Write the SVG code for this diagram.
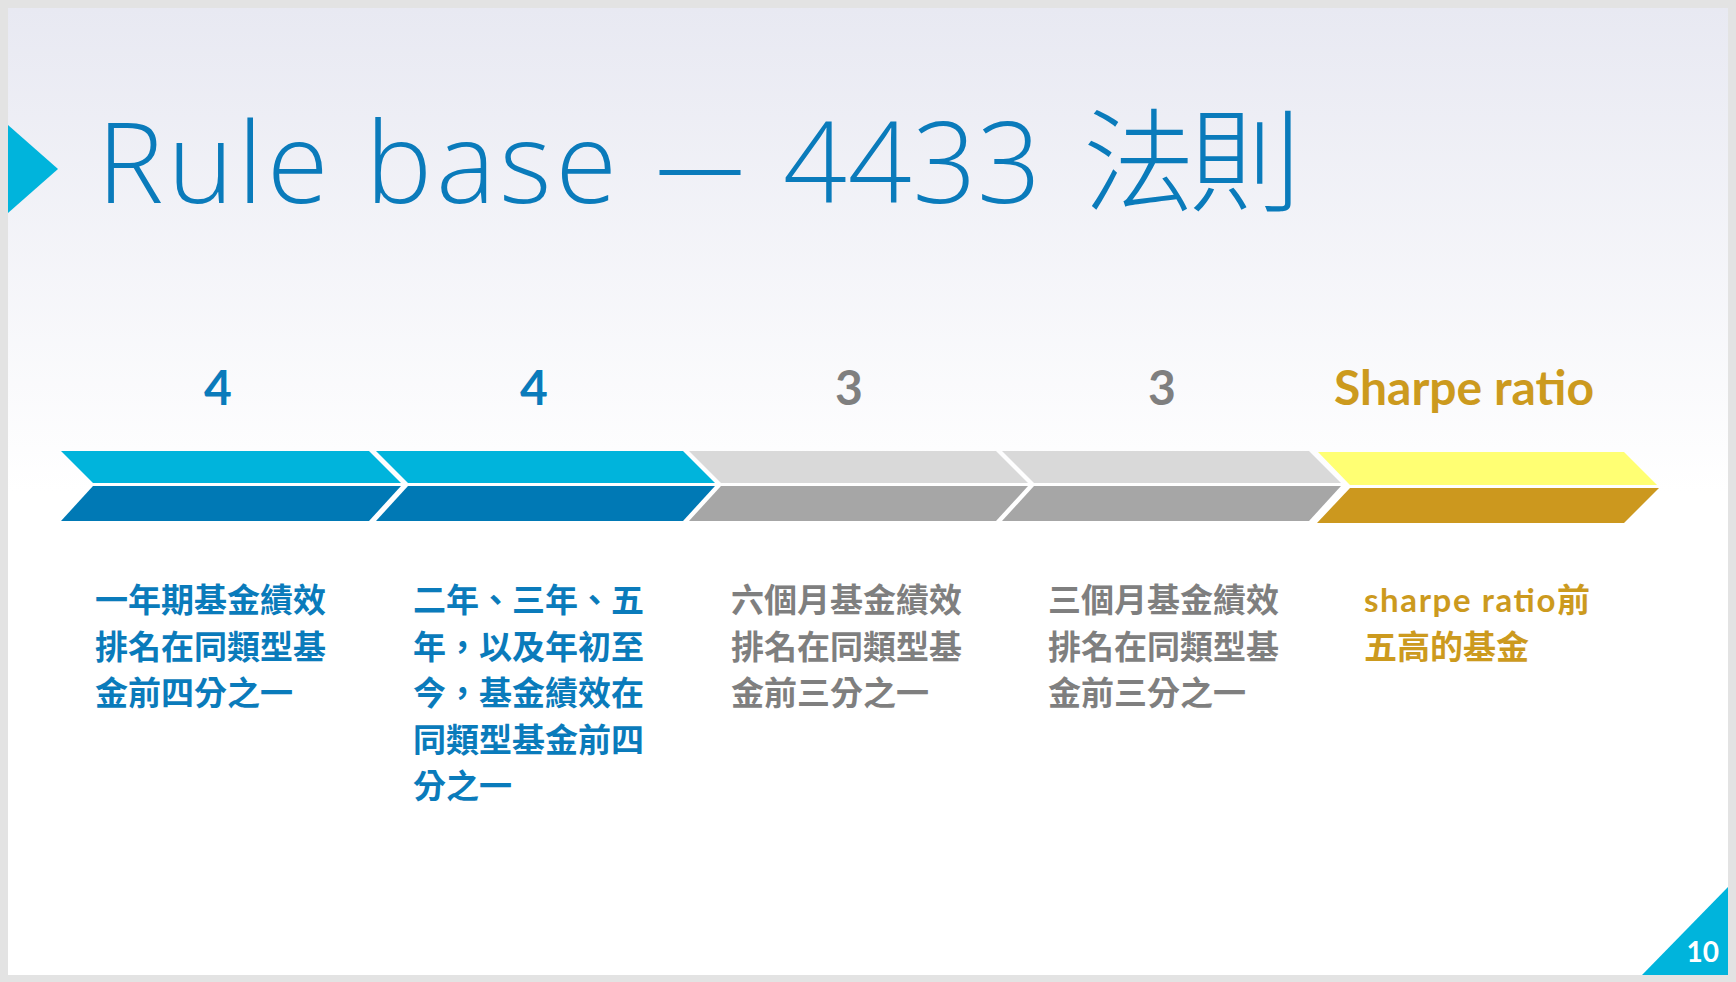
<svg xmlns="http://www.w3.org/2000/svg" width="1736" height="982" viewBox="0 0 1736 982">
  <defs>
    <linearGradient id="bg" x1="0" y1="0" x2="0" y2="1">
      <stop offset="0" stop-color="#e8e9f2"/>
      <stop offset="0.5" stop-color="#ffffff"/>
      <stop offset="1" stop-color="#ffffff"/>
    </linearGradient>
  </defs>
  <style>
    .title { font-family: "Open Sans", "Noto Sans CJK TC", sans-serif; font-weight: 300; font-size: 112px; fill: #0a7bbb; }
    .num { font-family: "Lato", "Noto Sans", sans-serif; font-weight: 700; font-size: 48px; text-anchor: middle; }
    .desc { font-family: "Lato", "Noto Sans CJK TC", sans-serif; font-weight: 700; font-size: 33px; }
    .blue { fill: #0a7bbb; }
    .grey { fill: #7f7f7f; }
    .gold { fill: #cc9a1e; }
    .cyanTop { fill: #00b4dc; }
    .blueBot { fill: #0079b5; }
    .greyTop { fill: #d9d9d9; }
    .greyBot { fill: #a6a6a6; }
    .yelTop { fill: #ffff73; }
    .goldBot { fill: #cc981e; }
  </style>

  <rect x="0" y="0" width="1736" height="982" fill="#e3e3e3"/>
  <rect x="8" y="8" width="1720" height="967" fill="url(#bg)"/>

  <g id="title">
    <polygon points="8,125 58,169 8,213" fill="#00b4dc"/>
    <text class="title" y="203"><tspan x="97" textLength="520" lengthAdjust="spacing">Rule base</tspan><tspan x="656" textLength="88" lengthAdjust="spacingAndGlyphs">—</tspan><tspan x="783" textLength="258" lengthAdjust="spacing">4433</tspan><tspan x="1083" textLength="218" lengthAdjust="spacing">法則</tspan></text>
  </g>

  <g id="step1">
    <polygon class="cyanTop" points="61,451 369,451 401,483 93,483"/>
    <polygon class="blueBot" points="93,486 401,486 369,521 61,521"/>
    <text class="num blue" x="218" y="405">4</text>
    <text class="desc blue"><tspan x="95" y="612">一年期基金績效</tspan><tspan x="95" y="658.5">排名在同類型基</tspan><tspan x="95" y="705">金前四分之一</tspan></text>
  </g>

  <g id="step2">
    <polygon class="cyanTop" points="376,451 683,451 715,483 408,483"/>
    <polygon class="blueBot" points="408,486 715,486 683,521 376,521"/>
    <text class="num blue" x="534" y="405">4</text>
    <text class="desc blue"><tspan x="413" y="612">二年、三年、五</tspan><tspan x="413" y="658.5">年，以及年初至</tspan><tspan x="413" y="705">今，基金績效在</tspan><tspan x="413" y="751.5">同類型基金前四</tspan><tspan x="413" y="798">分之一</tspan></text>
  </g>

  <g id="step3">
    <polygon class="greyTop" points="689,451 996,451 1028,483 721,483"/>
    <polygon class="greyBot" points="721,486 1028,486 996,521 689,521"/>
    <text class="num grey" x="849" y="405">3</text>
    <text class="desc grey"><tspan x="731" y="612">六個月基金績效</tspan><tspan x="731" y="658.5">排名在同類型基</tspan><tspan x="731" y="705">金前三分之一</tspan></text>
  </g>

  <g id="step4">
    <polygon class="greyTop" points="1002,451 1309,451 1341,483 1034,483"/>
    <polygon class="greyBot" points="1034,486 1341,486 1309,521 1002,521"/>
    <text class="num grey" x="1162" y="405">3</text>
    <text class="desc grey"><tspan x="1048" y="612">三個月基金績效</tspan><tspan x="1048" y="658.5">排名在同類型基</tspan><tspan x="1048" y="705">金前三分之一</tspan></text>
  </g>

  <g id="step5">
    <polygon class="yelTop" points="1318,452 1624,452 1657,485 1350,485"/>
    <polygon class="goldBot" points="1350,488 1659,488 1624,523 1317,523"/>
    <text class="num gold" x="1464" y="405">Sharpe ratio</text>
    <text class="desc gold"><tspan x="1364" y="612" textLength="226" lengthAdjust="spacing">sharpe ratio前</tspan><tspan x="1364" y="658.5">五高的基金</tspan></text>
  </g>

  <g id="connectors"></g>

  <g id="page-number">
    <polygon points="1728,887 1728,975 1642,975" fill="#00b4dc"/>
    <text x="1719" y="962" font-family="Lato, 'Noto Sans', sans-serif" font-weight="700" font-size="28" fill="#ffffff" text-anchor="end">10</text>
  </g>
</svg>
